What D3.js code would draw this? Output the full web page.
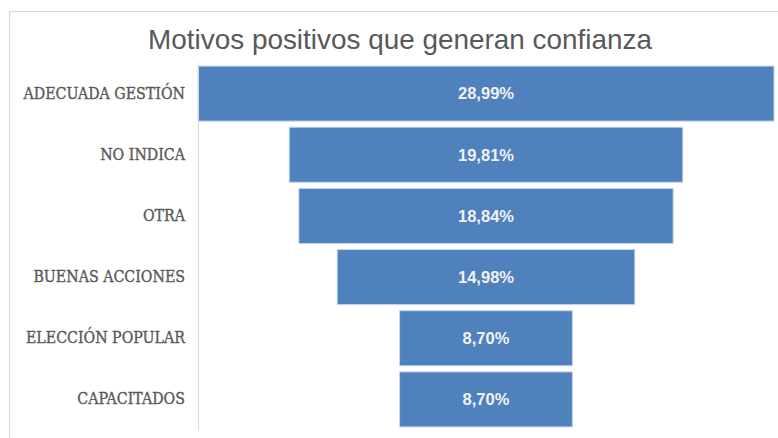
<!DOCTYPE html>
<html>
<head>
<meta charset="utf-8">
<script src="https://cdn.jsdelivr.net/npm/d3@7"></script>
<style>
  html, body { margin: 0; padding: 0; background: #ffffff; }
  svg { display: block; }
</style>
</head>
<body>
<script>
const title = "Motivos positivos que generan confianza";
const categories = ["ADECUADA GESTIÓN", "NO INDICA", "OTRA", "BUENAS ACCIONES", "ELECCIÓN POPULAR", "CAPACITADOS"];
const values = [28.99, 19.81, 18.84, 14.98, 8.70, 8.70];
const labels = ["28,99%", "19,81%", "18,84%", "14,98%", "8,70%", "8,70%"];

const W = 778, H = 438;
const svg = d3.select("body").append("svg").attr("width", W).attr("height", H);

// chart frame (cut off right and bottom)
svg.append("rect")
  .attr("x", 9.5).attr("y", 11.5)
  .attr("width", W + 20).attr("height", H + 20)
  .attr("fill", "#ffffff")
  .attr("stroke", "#d9d9d9").attr("stroke-width", 1.2);

svg.append("text")
  .attr("x", 400).attr("y", 49)
  .attr("text-anchor", "middle")
  .attr("font-family", "Liberation Sans, Arial, sans-serif")
  .attr("font-size", 27.9)
  .attr("fill", "#595959")
  .text(title);

const plotLeft = 198, maxW = 576;
const cx = plotLeft + maxW / 2;

const x = d3.scaleLinear().domain([0, d3.max(values)]).range([0, maxW]);
const y = d3.scaleBand().domain(categories).range([63, 430]).paddingInner(0.1).paddingOuter(0.05);

// bars
svg.append("g").selectAll("rect")
  .data(categories)
  .join("rect")
  .attr("x", (d, i) => cx - x(values[i]) / 2)
  .attr("y", d => y(d))
  .attr("width", (d, i) => x(values[i]))
  .attr("height", y.bandwidth())
  .attr("fill", "#4f81bd")
  .attr("stroke", "#c6d6ec")
  .attr("stroke-width", 1);

// axis line
svg.append("line")
  .attr("x1", plotLeft + 0.5).attr("x2", plotLeft + 0.5)
  .attr("y1", 63).attr("y2", 430)
  .attr("stroke", "#d9d9d9").attr("stroke-width", 1);

// category axis labels
const yAxis = d3.axisLeft(y).tickSize(0).tickPadding(13);
const ga = svg.append("g").attr("transform", `translate(${plotLeft},0)`).call(yAxis);
ga.select(".domain").remove();
ga.selectAll("text")
  .attr("font-family", "DejaVu Serif Condensed, Liberation Serif, serif")
  .attr("font-size", 15.8)
  .attr("fill", "#595959")
  .attr("stroke", "#595959")
  .attr("stroke-width", 0.35);

// value labels
svg.append("g").selectAll("text")
  .data(categories)
  .join("text")
  .attr("x", cx)
  .attr("y", d => y(d) + y.bandwidth() / 2)
  .attr("dy", "0.35em")
  .attr("text-anchor", "middle")
  .attr("font-family", "Liberation Sans, Arial, sans-serif")
  .attr("font-weight", "bold")
  .attr("font-size", 16.5)
  .attr("fill", "#f2f2f2")
  .text((d, i) => labels[i]);
</script>
</body>
</html>
